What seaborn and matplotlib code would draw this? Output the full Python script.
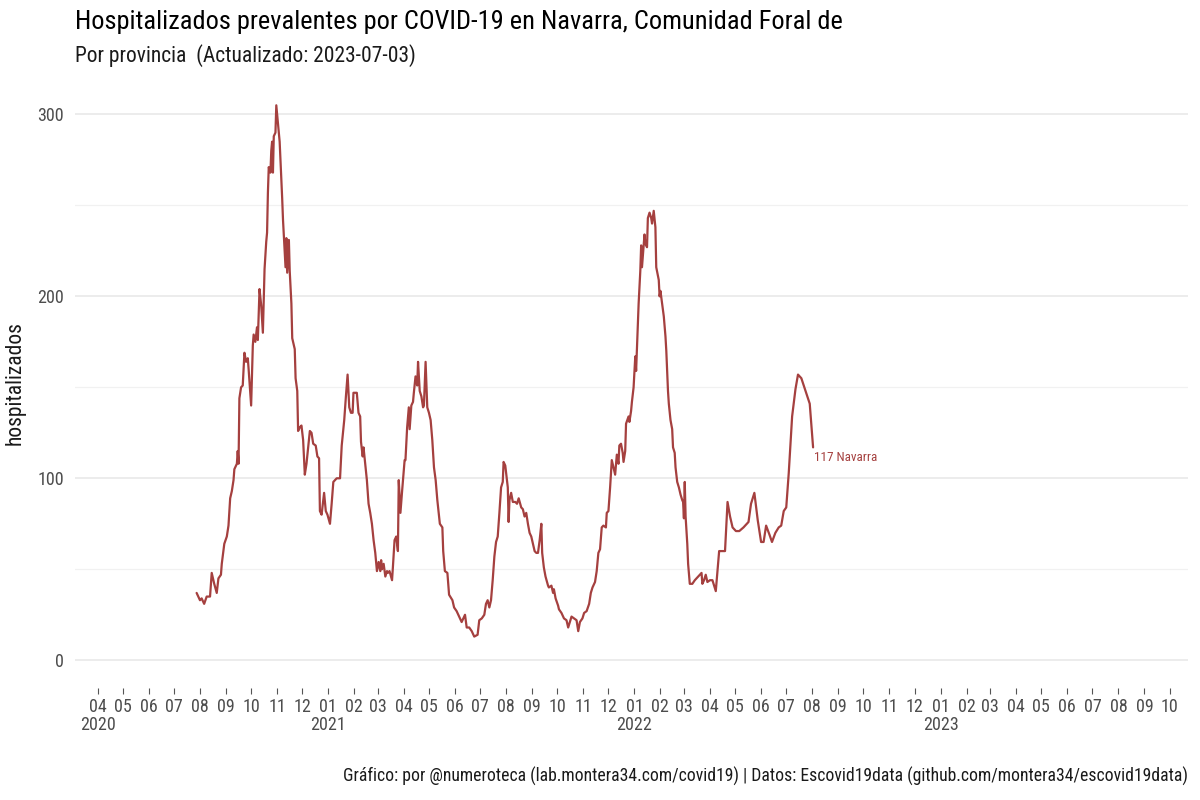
import pandas as pd
import numpy as np
import seaborn as sns
import matplotlib.pyplot as plt
import matplotlib.dates as mdates
from matplotlib.ticker import MultipleLocator

# Datos: días desde 2020-04-01 y hospitalizados
fecha_inicio = "2020-04-01"
dias = [118, 122, 124, 127, 130, 134, 136, 139, 142, 144, 147, 148, 151, 154, 156, 158, 160, 162, 163, 166,
        167, 168, 169, 171, 173, 175, 177, 179, 180, 183, 185, 186, 188, 190, 191, 193, 195, 197, 199, 201,
        202, 203, 204, 206, 207, 208, 209, 210, 212, 213, 216, 217, 220, 221, 223, 224, 225, 226, 228, 229,
        231, 232, 235, 236, 238, 239, 241, 243, 245, 247, 249, 251, 253, 255, 257, 260, 262, 264, 265, 267,
        270, 272, 274, 277, 279, 281, 285, 289, 291, 294, 296, 298, 300, 302, 304, 305, 309, 311, 313, 314,
        316, 317, 319, 321, 323, 325, 327, 329, 331, 333, 335, 337, 338, 339, 341, 343, 345, 346, 348, 351,
        352, 354, 356, 358, 359, 361, 363, 366, 367, 369, 371, 372, 374, 376, 377, 379, 381, 382, 384, 386,
        388, 389, 391, 393, 395, 397, 399, 401, 403, 405, 408, 411, 412, 414, 417, 419, 423, 425, 428, 431,
        434, 438, 440, 443, 446, 449, 453, 455, 458, 461, 463, 465, 467, 469, 471, 473, 475, 477, 479, 481,
        483, 484, 486, 488, 489, 490, 491, 493, 495, 498, 500, 502, 505, 507, 509, 511, 513, 515, 517, 519,
        521, 523, 525, 527, 529, 530, 532, 534, 537, 538, 541, 543, 544, 546, 549, 550, 553, 556, 559, 561,
        563, 565, 568, 571, 573, 575, 578, 580, 583, 586, 588, 590, 593, 595, 597, 599, 601, 603, 606, 607,
        609, 611, 613, 615, 617, 619, 621, 622, 624, 626, 627, 629, 630, 633, 634, 636, 637, 639, 641, 642,
        644, 645, 647, 648, 649, 651, 652, 653, 655, 656, 658, 660, 661, 663, 665, 666, 669, 670, 671, 673,
        675, 677, 678, 680, 681, 683, 685, 686, 688, 689, 691, 693, 695, 697, 698, 699, 700, 701, 703, 704,
        706, 709, 712, 716, 720, 721, 723, 725, 727, 730, 733, 735, 737, 741, 748, 751, 754, 757, 761, 765,
        770, 776, 779, 783, 787, 791, 794, 797, 801, 804, 808, 812, 815, 818, 821, 824, 828, 832, 835, 839,
        844, 849, 853]
hospitalizados = [37, 33, 34, 31, 35, 35, 48, 42, 37, 45, 47, 53, 64, 68, 74, 89, 93, 99, 105, 108,
                  115, 108, 144, 150, 151, 169, 164, 166, 160, 140, 173, 179, 175, 183, 176, 204, 195, 180, 215, 230,
                  235, 257, 271, 268, 280, 285, 268, 288, 290, 305, 290, 285, 254, 242, 224, 216, 232, 213, 231, 214,
                  196, 177, 171, 155, 148, 126, 128, 129, 121, 102, 108, 117, 126, 125, 119, 118, 112, 111, 82, 80,
                  92, 82, 80, 75, 86, 98, 100, 100, 118, 132, 145, 157, 139, 136, 136, 147, 147, 136, 134, 120,
                  112, 117, 108, 99, 86, 81, 75, 66, 59, 49, 54, 49, 55, 50, 53, 46, 49, 48, 49, 44,
                  51, 66, 68, 60, 99, 81, 93, 110, 110, 128, 139, 127, 140, 142, 147, 156, 151, 164, 148, 145,
                  139, 140, 164, 139, 136, 132, 121, 106, 99, 88, 75, 73, 60, 49, 48, 36, 33, 29, 27, 24,
                  21, 25, 18, 18, 16, 13, 14, 22, 23, 25, 31, 33, 29, 33, 44, 57, 65, 68, 81, 95,
                  98, 109, 107, 99, 95, 76, 88, 92, 87, 87, 86, 89, 84, 83, 79, 81, 75, 70, 68, 64,
                  60, 59, 59, 66, 75, 59, 51, 46, 41, 40, 41, 37, 39, 34, 30, 28, 26, 23, 22, 18,
                  21, 24, 23, 22, 16, 21, 23, 26, 27, 31, 37, 40, 43, 49, 59, 61, 73, 74, 73, 81,
                  82, 95, 110, 106, 102, 113, 108, 118, 119, 114, 109, 115, 130, 134, 131, 137, 142, 150, 167, 159,
                  183, 196, 214, 228, 216, 228, 234, 229, 227, 243, 246, 243, 240, 247, 238, 216, 209, 200, 203, 196,
                  189, 178, 170, 148, 141, 132, 127, 117, 114, 106, 98, 95, 91, 88, 87, 78, 98, 79, 64, 53,
                  42, 42, 44, 46, 48, 42, 44, 47, 43, 44, 44, 41, 38, 60, 60, 87, 79, 73, 71, 71,
                  73, 76, 86, 92, 77, 65, 65, 74, 69, 65, 70, 73, 74, 82, 84, 103, 134, 149, 157, 155,
                  148, 141, 117]
provincia = "Navarra"

color_linea = "#a5403f"

df = pd.DataFrame({
    "fecha": pd.to_datetime(fecha_inicio) + pd.to_timedelta(dias, unit="D"),
    "hospitalizados": hospitalizados,
})

sns.set_style("white")
plt.rcParams["font.family"] = ["Roboto Condensed", "Liberation Sans Narrow", "Roboto", "DejaVu Sans"]

fig = plt.figure(figsize=(12, 8), dpi=100)
ax = fig.add_axes([0.0625, 0.14, 0.9275, 0.7625])

sns.lineplot(data=df, x="fecha", y="hospitalizados", estimator=None, sort=False,
             color=color_linea, linewidth=1.6, ax=ax)

ultimo = df.iloc[-1]
ax.text(ultimo["fecha"] + pd.Timedelta(days=1), ultimo["hospitalizados"] - 2,
        f"{ultimo['hospitalizados']} {provincia}", color=color_linea, fontsize=9.5,
        ha="left", va="top")

ax.set_ylim(-15.25, 320)
ax.set_xlim(pd.Timestamp("2020-03-05"), pd.Timestamp("2023-10-23"))

ax.yaxis.set_major_locator(MultipleLocator(100))
ax.yaxis.set_minor_locator(MultipleLocator(50))
ax.grid(which="major", axis="y", color="#ebebeb", linewidth=1.3)
ax.grid(which="minor", axis="y", color="#f1f1f1", linewidth=0.9)
ax.grid(False, axis="x")

meses = pd.date_range("2020-04-01", "2023-10-01", freq="MS")
etiquetas = [m.strftime("%m\n%Y") if (i == 0 or m.month == 1) else m.strftime("%m")
             for i, m in enumerate(meses)]
ax.set_xticks(meses)
ax.set_xticklabels(etiquetas, ha="center", va="top", linespacing=1.0)
ax.tick_params(axis="x", which="major", length=4, width=0.8, color="#555555",
               labelsize=13, labelcolor="#4d4d4d", pad=3, bottom=True)
ax.tick_params(axis="y", which="both", length=0, labelsize=13, labelcolor="#4d4d4d", pad=8)
for s in ax.spines.values():
    s.set_visible(False)

ax.set_xlabel("")
ax.set_ylabel("hospitalizados", fontsize=15.5, color="#1a1a1a", labelpad=8)

fig.text(0.0625, 0.972, "Hospitalizados prevalentes por COVID-19 en Navarra, Comunidad Foral de",
         fontsize=19, color="#000000", ha="left", va="center")
fig.text(0.0625, 0.931, "Por provincia  (Actualizado: 2023-07-03)",
         fontsize=15.5, color="#1a1a1a", ha="left", va="center")
fig.text(0.99, 0.03, "Gráfico: por @numeroteca (lab.montera34.com/covid19) | Datos: Escovid19data (github.com/montera34/escovid19data)",
         fontsize=12.7, color="#1a1a1a", ha="right", va="center")

fig.savefig("out.png", dpi=100)
